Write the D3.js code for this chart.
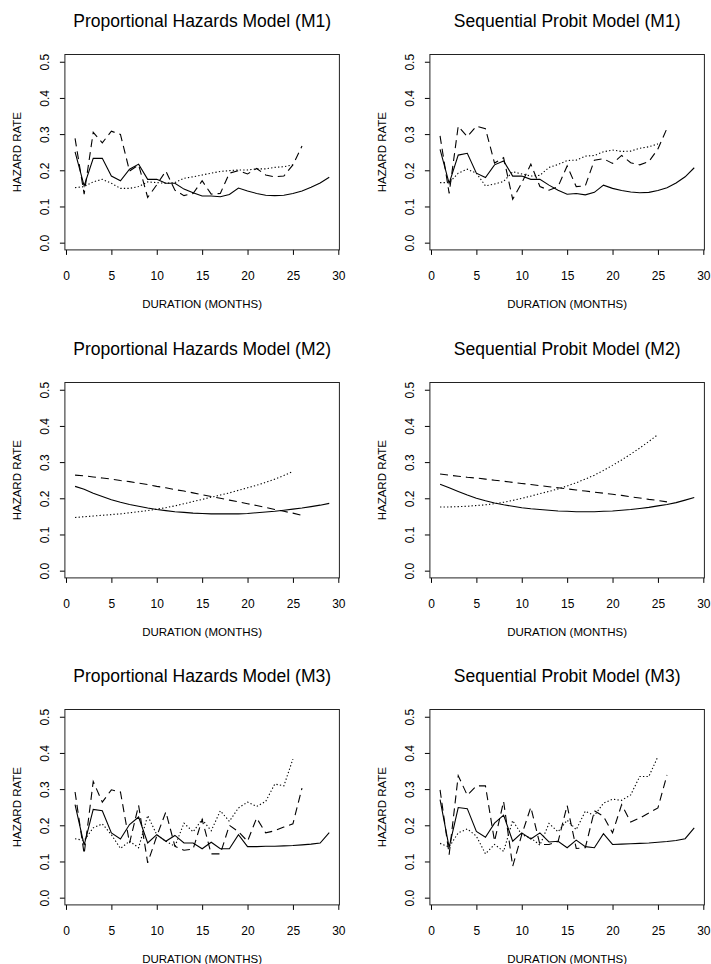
<!DOCTYPE html>
<html>
<head>
<meta charset="utf-8">
<script src="https://cdn.jsdelivr.net/npm/d3@7"></script>
<style>
  body { margin: 0; background: #fff; }
  svg { display: block; }
  text { font-family: "Liberation Sans", Arial, Helvetica, sans-serif; fill: #000; }
</style>
</head>
<body>
<svg id="chart" width="711" height="964"></svg>
<script>
// Panel titles, in reading order (row by row, left to right)
const panelTitles = [
  "Proportional Hazards Model (M1)", "Sequential Probit Model (M1)",
  "Proportional Hazards Model (M2)", "Sequential Probit Model (M2)",
  "Proportional Hazards Model (M3)", "Sequential Probit Model (M3)"
];
const xAxisTitle = "DURATION (MONTHS)";
const yAxisTitle = "HAZARD RATE";
const xTickValues = [0, 5, 10, 15, 20, 25, 30];
const yTickValues = [0.0, 0.1, 0.2, 0.3, 0.4, 0.5];
const yTickLabels = ["0.0", "0.1", "0.2", "0.3", "0.4", "0.5"];

// Hazard rates by month (month 1 first). Three groups per panel: solid, dashed, dotted.
const phM1Solid  = [0.251,0.157,0.233,0.233,0.184,0.171,0.203,0.217,0.175,0.175,0.164,0.164,0.148,0.138,0.129,0.129,0.127,0.133,0.151,0.143,0.136,0.131,0.130,0.131,0.136,0.143,0.153,0.165,0.181];
const phM1Dashed = [0.288,0.134,0.305,0.276,0.308,0.299,0.198,0.215,0.125,0.160,0.198,0.145,0.130,0.136,0.171,0.134,0.136,0.192,0.199,0.190,0.205,0.187,0.182,0.184,0.215,0.267];
const phM1Dotted = [0.152,0.155,0.168,0.175,0.164,0.150,0.150,0.155,0.168,0.166,0.164,0.166,0.178,0.182,0.187,0.192,0.197,0.199,0.201,0.201,0.204,0.204,0.208,0.210,0.215];

const spM1Solid  = [0.258,0.164,0.242,0.247,0.192,0.180,0.215,0.226,0.184,0.184,0.175,0.175,0.159,0.145,0.134,0.136,0.132,0.139,0.159,0.150,0.144,0.140,0.138,0.139,0.144,0.152,0.165,0.182,0.207];
const spM1Dashed = [0.295,0.136,0.322,0.293,0.322,0.315,0.220,0.235,0.120,0.165,0.217,0.155,0.145,0.155,0.212,0.155,0.157,0.228,0.232,0.219,0.241,0.221,0.215,0.224,0.259,0.316];
const spM1Dotted = [0.166,0.166,0.192,0.203,0.192,0.157,0.162,0.169,0.196,0.190,0.184,0.186,0.208,0.216,0.227,0.228,0.239,0.241,0.251,0.256,0.252,0.253,0.261,0.265,0.273];

const phM2Solid  = [0.233,0.225,0.214,0.205,0.196,0.189,0.183,0.178,0.173,0.169,0.166,0.163,0.161,0.159,0.158,0.157,0.157,0.157,0.157,0.158,0.160,0.162,0.164,0.167,0.170,0.173,0.177,0.181,0.186];
const phM2Dashed = [0.264,0.262,0.259,0.256,0.253,0.249,0.246,0.242,0.238,0.233,0.229,0.224,0.220,0.215,0.210,0.205,0.200,0.195,0.190,0.185,0.180,0.175,0.169,0.164,0.159,0.153];
const phM2Dotted = [0.147,0.149,0.151,0.153,0.155,0.157,0.160,0.163,0.166,0.170,0.174,0.179,0.185,0.191,0.197,0.203,0.209,0.215,0.222,0.229,0.236,0.244,0.253,0.263,0.274];

const spM2Solid  = [0.239,0.229,0.219,0.209,0.200,0.193,0.187,0.182,0.178,0.174,0.171,0.169,0.167,0.165,0.164,0.163,0.163,0.163,0.164,0.165,0.167,0.169,0.172,0.175,0.179,0.183,0.188,0.195,0.202];
const spM2Dashed = [0.267,0.264,0.261,0.258,0.256,0.253,0.250,0.247,0.244,0.241,0.238,0.235,0.232,0.229,0.226,0.223,0.220,0.217,0.214,0.211,0.208,0.204,0.201,0.197,0.194,0.190];
const spM2Dotted = [0.176,0.176,0.177,0.178,0.180,0.182,0.185,0.189,0.194,0.200,0.206,0.213,0.219,0.226,0.234,0.243,0.253,0.264,0.277,0.291,0.306,0.322,0.339,0.357,0.376];

const phM3Solid  = [0.257,0.145,0.244,0.240,0.179,0.162,0.202,0.223,0.151,0.174,0.156,0.172,0.151,0.151,0.135,0.153,0.135,0.135,0.174,0.141,0.141,0.142,0.142,0.143,0.144,0.146,0.148,0.151,0.180];
const phM3Dashed = [0.292,0.121,0.321,0.264,0.298,0.292,0.151,0.255,0.096,0.170,0.237,0.142,0.131,0.134,0.216,0.121,0.121,0.200,0.182,0.156,0.220,0.179,0.185,0.195,0.204,0.303];
const phM3Dotted = [0.163,0.158,0.193,0.204,0.174,0.136,0.156,0.138,0.227,0.174,0.156,0.142,0.206,0.182,0.216,0.185,0.240,0.211,0.248,0.264,0.252,0.266,0.314,0.309,0.383];

const spM3Solid  = [0.271,0.139,0.249,0.246,0.183,0.167,0.206,0.228,0.156,0.179,0.162,0.179,0.154,0.156,0.138,0.159,0.141,0.138,0.177,0.147,0.148,0.149,0.150,0.151,0.153,0.155,0.158,0.163,0.193];
const spM3Dashed = [0.298,0.119,0.337,0.283,0.309,0.309,0.156,0.266,0.087,0.174,0.250,0.147,0.147,0.155,0.255,0.136,0.138,0.240,0.225,0.179,0.257,0.209,0.220,0.234,0.248,0.339];
const spM3Dotted = [0.150,0.140,0.179,0.190,0.170,0.121,0.147,0.128,0.213,0.174,0.165,0.145,0.205,0.182,0.214,0.188,0.239,0.227,0.261,0.272,0.269,0.284,0.335,0.335,0.390];

const panelSeries = [
  [phM1Solid, phM1Dashed, phM1Dotted], [spM1Solid, spM1Dashed, spM1Dotted],
  [phM2Solid, phM2Dashed, phM2Dotted], [spM2Solid, spM2Dashed, spM2Dotted],
  [phM3Solid, phM3Dashed, phM3Dotted], [spM3Solid, spM3Dashed, spM3Dotted]
];
const lineDash = [null, "8,5", "1.3,2.2"];

// Layout
const plotW = 274.5, plotH = 195.4;
const colLeft = [64.9, 429.9];
const rowTop = [54.5, 382.5, 709.5];

const svg = d3.select("#chart");
svg.append("rect").attr("width", 711).attr("height", 964).attr("fill", "#fff");

const x = d3.scaleLinear().domain([-0.12, 30.12]).range([0, plotW]);
const y = d3.scaleLinear().domain([-0.02, 0.52]).range([plotH, 0]);

const line = d3.line()
  .x((d, i) => x(i + 1))
  .y(d => y(d));

panelSeries.forEach((series, p) => {
  const row = Math.floor(p / 2), col = p % 2;
  const g = svg.append("g").attr("transform", `translate(${colLeft[col]},${rowTop[row]})`);

  // title
  g.append("text")
    .attr("x", plotW / 2).attr("y", -28)
    .attr("text-anchor", "middle")
    .style("font-size", "17.5px")
    .text(panelTitles[p]);

  // x axis
  const gx = g.append("g").attr("transform", `translate(0,${plotH})`)
    .call(d3.axisBottom(x).tickValues(xTickValues).tickSize(5).tickFormat(d3.format("d")));
  gx.select(".domain").remove();
  gx.selectAll(".tick line").attr("stroke", "#000");
  gx.selectAll(".tick text")
    .attr("y", 30.5).attr("dy", null)
    .style("font-size", "12px").style("font-family", '"Liberation Sans", Arial, sans-serif');

  // y axis
  const gy = g.append("g")
    .call(d3.axisLeft(y).tickValues(yTickValues).tickSize(5).tickFormat((d, i) => yTickLabels[i]));
  gy.select(".domain").remove();
  gy.selectAll(".tick line").attr("stroke", "#000");
  gy.selectAll(".tick text")
    .attr("x", null).attr("dy", null)
    .attr("text-anchor", "middle")
    .attr("transform", "translate(-16.4,0) rotate(-90)")
    .style("font-size", "12px").style("font-family", '"Liberation Sans", Arial, sans-serif');

  // axis titles
  g.append("text")
    .attr("x", plotW / 2).attr("y", plotH + 58)
    .attr("text-anchor", "middle")
    .style("font-size", "11.5px")
    .text(xAxisTitle);
  g.append("text")
    .attr("transform", `translate(-43.9,${plotH / 2}) rotate(-90)`)
    .attr("text-anchor", "middle")
    .style("font-size", "11.5px")
    .text(yAxisTitle);

  // series lines
  series.forEach((vals, k) => {
    g.append("path")
      .datum(vals)
      .attr("d", line)
      .attr("fill", "none")
      .attr("stroke", "#000")
      .attr("stroke-width", 1.1)
      .attr("stroke-dasharray", lineDash[k]);
  });

  // plot box
  g.append("rect")
    .attr("width", plotW).attr("height", plotH)
    .attr("fill", "none").attr("stroke", "#222").attr("stroke-width", 1);
});
</script>
</body>
</html>
